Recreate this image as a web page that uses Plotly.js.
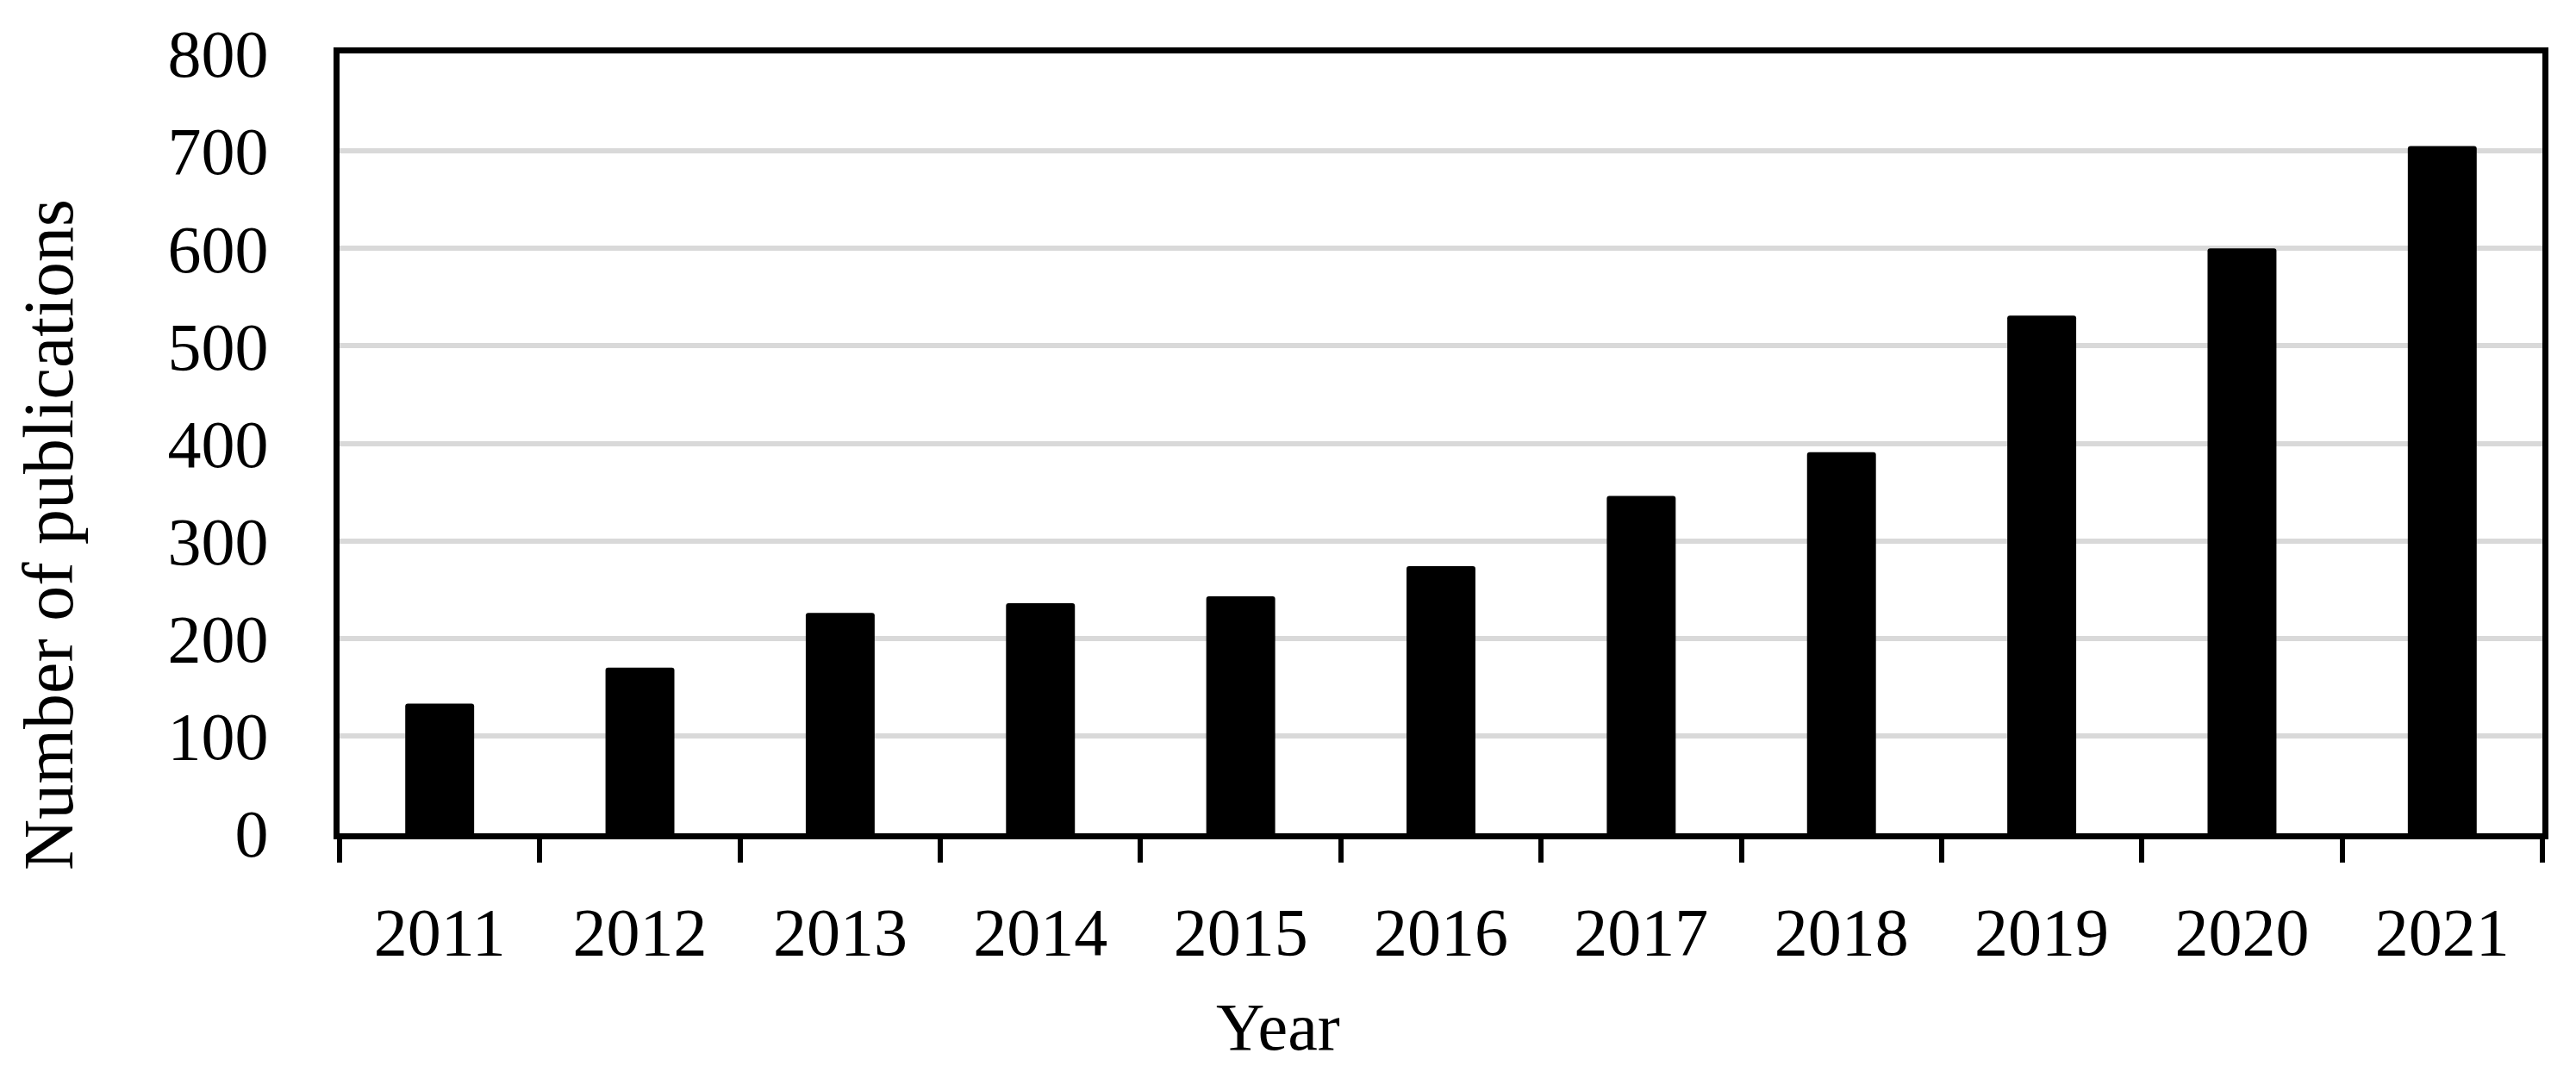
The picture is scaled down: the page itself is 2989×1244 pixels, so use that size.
<!DOCTYPE html>
<html>
<head>
<meta charset="utf-8">
<script src="https://cdn.plot.ly/plotly-3.0.1.min.js"></script>
<style>html,body{margin:0;padding:0;background:#fff;}#chart{width:2989px;height:1244px;}</style>
</head>
<body>
<div id="chart"></div>
<script>
const years = ['2011','2012','2013','2014','2015','2016','2017','2018','2019','2020','2021'];
const publications = [133, 170, 226, 236, 243, 274, 346, 391, 531, 600, 705];
const yTicks = [0, 100, 200, 300, 400, 500, 600, 700, 800];
const xTitle = 'Year';
const yTitle = 'Number of publications';

const FONT = '"Liberation Serif", "Times New Roman", serif';

const trace = {
  type: 'bar',
  x: years,
  y: publications,
  marker: {color: '#000000', line: {width: 0}, cornerradius: 3},
  hoverinfo: 'x+y'
};

const layout = {
  width: 2989,
  height: 1244,
  margin: {l: 394, r: 39, t: 62, b: 277},
  paper_bgcolor: '#ffffff',
  plot_bgcolor: '#ffffff',
  showlegend: false,
  bargap: 0.656,
  font: {family: FONT, size: 76, color: '#000000'},
  xaxis: {
    type: 'category',
    showline: true,
    linecolor: '#000000',
    linewidth: 7,
    mirror: true,
    ticks: 'outside',
    tickson: 'boundaries',
    ticklen: 27,
    tickwidth: 6,
    tickcolor: '#000000',
    showgrid: false,
    tickfont: {family: FONT, size: 78, color: '#000000'},
    ticklabelstandoff: 40
  },
  yaxis: {
    range: [0, 800],
    tickvals: yTicks,
    ticktext: yTicks.map(String),
    showline: true,
    linecolor: '#000000',
    linewidth: 7,
    mirror: true,
    ticks: '',
    showgrid: true,
    gridcolor: '#d9d9d9',
    gridwidth: 6,
    zeroline: false,
    tickfont: {family: FONT, size: 78, color: '#000000'},
    ticklabelstandoff: 60
  },
  annotations: [
    {
      text: yTitle, xref: 'paper', yref: 'paper',
      x: -0.132, y: 0.383, xanchor: 'center', yanchor: 'middle',
      textangle: -90, showarrow: false,
      font: {family: FONT, size: 82, color: '#000000'}
    },
    {
      text: xTitle, xref: 'paper', yref: 'paper',
      x: 0.426, y: -0.248, xanchor: 'center', yanchor: 'middle',
      showarrow: false,
      font: {family: FONT, size: 78, color: '#000000'}
    }
  ]
};

Plotly.newPlot('chart', [trace], layout, {staticPlot: true, displayModeBar: false});
</script>
</body>
</html>
